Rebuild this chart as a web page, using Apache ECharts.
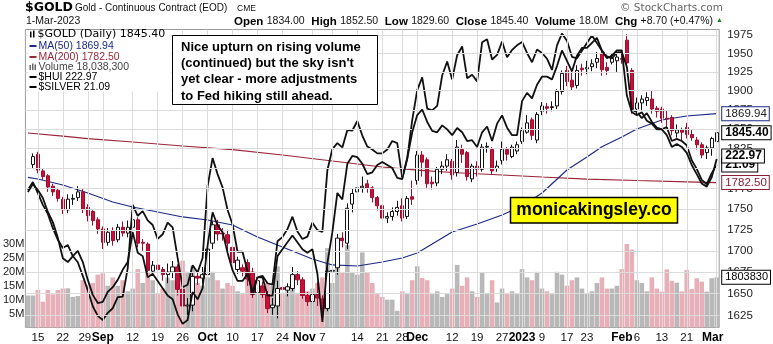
<!DOCTYPE html>
<html>
<head>
<meta charset="utf-8">
<script src="https://cdn.jsdelivr.net/npm/echarts@6.0.0/dist/echarts.min.js"></script>
<style>
html,body{margin:0;padding:0;background:#fff;}
#chart{width:773px;height:344px;}
</style>
</head>
<body>
<div id="chart"></div>
<script>
// ---------------- DATA ----------------
const dates = [
'2022-08-11','2022-08-12','2022-08-15','2022-08-16','2022-08-17','2022-08-18','2022-08-19','2022-08-22','2022-08-23','2022-08-24','2022-08-25','2022-08-26','2022-08-29','2022-08-30','2022-08-31',
'2022-09-01','2022-09-02','2022-09-06','2022-09-07','2022-09-08','2022-09-09','2022-09-12','2022-09-13','2022-09-14','2022-09-15','2022-09-16','2022-09-19','2022-09-20','2022-09-21','2022-09-22','2022-09-23','2022-09-26','2022-09-27','2022-09-28','2022-09-29','2022-09-30',
'2022-10-03','2022-10-04','2022-10-05','2022-10-06','2022-10-07','2022-10-10','2022-10-11','2022-10-12','2022-10-13','2022-10-14','2022-10-17','2022-10-18','2022-10-19','2022-10-20','2022-10-21','2022-10-24','2022-10-25','2022-10-26','2022-10-27','2022-10-28','2022-10-31',
'2022-11-01','2022-11-02','2022-11-03','2022-11-04','2022-11-07','2022-11-08','2022-11-09','2022-11-10','2022-11-11','2022-11-14','2022-11-15','2022-11-16','2022-11-17','2022-11-18','2022-11-21','2022-11-22','2022-11-23','2022-11-25','2022-11-28','2022-11-29','2022-11-30',
'2022-12-01','2022-12-02','2022-12-05','2022-12-06','2022-12-07','2022-12-08','2022-12-09','2022-12-12','2022-12-13','2022-12-14','2022-12-15','2022-12-16','2022-12-19','2022-12-20','2022-12-21','2022-12-22','2022-12-23','2022-12-27','2022-12-28','2022-12-29','2022-12-30',
'2023-01-03','2023-01-04','2023-01-05','2023-01-06','2023-01-09','2023-01-10','2023-01-11','2023-01-12','2023-01-13','2023-01-17','2023-01-18','2023-01-19','2023-01-20','2023-01-23','2023-01-24','2023-01-25','2023-01-26','2023-01-27','2023-01-30','2023-01-31',
'2023-02-01','2023-02-02','2023-02-03','2023-02-06','2023-02-07','2023-02-08','2023-02-09','2023-02-10','2023-02-13','2023-02-14','2023-02-15','2023-02-16','2023-02-17','2023-02-21','2023-02-22','2023-02-23','2023-02-24','2023-02-27','2023-02-28',
'2023-03-01'];

// [open, close, low, high]
const gold = [
'-',
[1805,1815,1800,1819],[1818,1798,1794,1821],[1797,1790,1786,1800],[1791,1777,1771,1793],[1778,1771,1766,1781],[1773,1763,1759,1776],
[1762,1749,1744,1765],[1749,1762,1745,1768],[1762,1763,1755,1768],[1764,1771,1760,1778],[1771,1750,1745,1775],
[1752,1742,1735,1756],[1747,1736,1730,1750],[1737,1726,1720,1740],
[1726,1710,1702,1729],[1710,1722,1706,1727],[1724,1712,1706,1728],[1713,1728,1710,1732],[1728,1721,1717,1735],[1721,1728,1716,1736],
[1728,1737,1725,1744],[1737,1709,1704,1740],[1710,1709,1700,1714],[1708,1677,1670,1710],[1676,1683,1672,1688],
[1683,1678,1668,1686],[1678,1672,1665,1681],[1672,1675,1662,1685],[1675,1681,1668,1688],[1681,1655,1648,1684],
[1655,1636,1628,1658],[1636,1637,1625,1645],[1637,1670,1630,1674],[1670,1668,1660,1675],[1668,1672,1662,1681],
[1672,1702,1668,1706],[1709,1731,1702,1735],[1731,1720,1712,1737],[1721,1720,1712,1727],[1719,1709,1700,1725],
[1704,1686,1678,1707],[1678,1689,1673,1693],[1680,1676,1670,1684],[1686,1667,1659,1690],[1675,1649,1645,1680],
[1651,1665,1648,1669],[1659,1649,1645,1664],[1650,1633,1628,1653],[1634,1637,1626,1645],[1636,1656,1622,1665],
[1657,1655,1648,1672],[1654,1658,1647,1662],[1656,1672,1653,1681],[1672,1666,1660,1676],[1666,1648,1644,1669],[1648,1641,1636,1652],
[1641,1649,1638,1656],[1649,1645,1636,1664],[1644,1633,1622,1648],[1633,1676,1630,1682],
[1676,1677,1668,1684],[1680,1715,1672,1720],[1715,1712,1704,1722],[1709,1751,1702,1757],[1756,1769,1746,1775],
[1771,1776,1764,1786],[1776,1778,1770,1790],[1781,1776,1770,1786],[1776,1764,1758,1778],[1764,1754,1748,1766],
[1754,1739,1735,1756],[1739,1741,1733,1746],[1741,1747,1736,1752],[1747,1752,1742,1760],
[1754,1739,1735,1763],[1741,1763,1738,1766],[1765,1762,1755,1785],
[1785,1817,1780,1822],[1817,1808,1790,1822],
[1811,1781,1776,1814],[1783,1781,1774,1790],[1782,1799,1778,1802],[1799,1803,1793,1809],[1803,1811,1797,1818],
[1809,1792,1786,1812],[1795,1827,1790,1836],[1824,1818,1807,1830],[1820,1790,1785,1822],[1787,1803,1783,1806],
[1803,1799,1790,1809],[1799,1827,1796,1831],[1827,1828,1820,1833],[1824,1797,1793,1827],[1800,1803,1796,1810],
[1810,1824,1805,1834],[1824,1818,1810,1827],[1815,1827,1813,1830],[1822,1830,1818,1834],
[1834,1848,1831,1852],[1846,1858,1844,1868],[1862,1842,1836,1865],[1836,1869,1832,1872],
[1873,1880,1868,1885],[1879,1877,1870,1884],[1878,1879,1873,1886],[1880,1899,1876,1902],[1899,1923,1895,1927],
[1927,1912,1906,1933],[1914,1905,1900,1928],[1907,1927,1903,1934],[1930,1928,1920,1936],
[1929,1931,1922,1940],[1932,1936,1926,1942],[1938,1943,1930,1952],[1950,1928,1920,1955],[1931,1927,1921,1938],
[1938,1943,1935,1950],[1940,1945,1925,1949],
[1943,1942,1936,1952],[1968,1937,1932,1976],[1927,1876,1870,1930],
[1876,1884,1868,1891],[1884,1889,1874,1894],[1887,1891,1880,1898],[1889,1876,1870,1901],[1877,1873,1865,1880],
[1876,1864,1858,1879],[1864,1863,1852,1874],[1865,1848,1842,1868],[1845,1849,1839,1856],[1849,1846,1834,1852],
[1852,1843,1838,1858],[1843,1839,1835,1849],[1836,1830,1824,1840],[1830,1817,1813,1833],
[1820,1826,1812,1829],[1826,1838,1816,1840],
[1834,1845.4,1829.6,1852.5]];

// volume, millions
const volumeM = [
11.5,11.5,13.5,9.3,13.5,11.9,13.5,14.0,14.1,11.0,11.3,17.0,15.3,16.0,19.0,
19.5,15.0,18.0,15.0,17.0,13.0,14.0,21.0,16.0,20.0,17.0,12.0,14.0,18.0,17.0,21.0,24.0,20.0,22.0,16.0,15.0,
18.0,20.0,17.0,14.0,16.0,15.0,13.0,12.0,19.0,18.0,13.0,14.0,16.0,15.0,22.0,12.0,13.0,16.0,12.0,14.0,13.0,
14.0,16.0,18.0,28.5,16.0,29.0,20.0,29.6,20.0,19.0,27.0,19.6,16.0,12.0,11.0,10.0,10.0,6.0,13.0,12.0,17.0,
22.0,17.8,17.0,12.0,13.0,11.0,12.0,14.0,22.5,15.0,18.0,13.0,11.0,19.6,12.0,17.0,9.0,14.0,12.0,13.0,12.0,
21.0,18.0,17.0,20.0,14.0,13.0,12.0,20.0,19.0,15.0,17.0,18.0,14.0,12.0,13.0,16.0,18.0,14.0,14.0,15.0,
21.0,30.0,28.0,17.0,16.0,13.0,18.0,14.0,12.9,20.9,16.8,16.1,13.0,20.7,13.8,17.7,16.5,12.9,17.7,
18.0383];

const hui = [
212.3,214.8,212.9,210.4,206.1,203.0,198.3,192.4,191.3,193.0,194.5,191.3,186.3,182.2,180.0,
180.3,183.0,184.3,186.3,189.1,191.3,200,194,193,187,188,186,184,182,181,177,174.5,175.5,183,181,184,
196,206,202,200,194,189,186,186,188,183,187,187,182,182,193,195,197,199,197,195,194,
195,188,175,191,200,212,210,221.4,224,223.6,221.4,218,218.6,221,222,221,220,216.8,216.4,223,232,
238,240,235.6,232.5,232,234.4,233,231,233.5,232,229,229.3,227,232,234,229,235,237.9,233.6,231,231,
243,246,244,249,252,252,251,256,262,258,254,260,263,263,265,267,262,259,260,262,
262,245,239,238,239,236,235,233,233,231,227,228,227,225,221,218,215,214,217,
222.97];

const silver = [
20.52,20.70,20.45,20.19,19.99,19.68,19.43,19.26,19.32,19.09,18.96,18.68,18.39,18.07,17.88,
17.80,17.94,18.03,18.25,18.26,18.84,20.19,19.95,20.05,19.85,19.75,19.45,19.55,19.80,19.70,19.05,18.45,18.50,18.90,18.75,19.05,
20.60,21.25,20.88,20.58,20.08,19.76,19.18,19.18,18.78,18.30,18.65,18.68,18.53,18.50,19.40,19.49,19.66,19.93,19.61,19.45,19.50,
19.80,19.64,19.60,20.97,21.46,21.60,21.50,21.91,21.90,22.13,21.78,21.52,21.45,21.36,21.36,21.45,21.65,21.60,20.80,21.25,22.15,
22.89,23.21,22.43,22.39,22.50,23.26,23.62,23.16,23.78,24.01,23.19,23.28,23.11,24.12,24.20,23.67,23.79,24.14,23.73,23.92,24.04,
24.13,23.84,23.60,23.93,23.84,23.69,23.40,24.04,24.35,24.16,23.74,23.70,23.90,24.10,24.30,24.10,23.90,23.75,23.70,23.85,
23.86,23.48,22.40,22.35,22.20,22.32,22.11,21.97,21.93,21.98,21.65,21.70,21.65,21.55,21.20,21.00,20.75,20.65,20.90,
21.09];

const ma50 = [
['2022-08-11',1789.0],['2022-08-15',1786.9],['2022-08-22',1779.5],['2022-08-29',1769.6],['2022-09-06',1758.6],
['2022-09-12',1752.5],['2022-09-19',1746.4],['2022-09-26',1740.4],['2022-10-03',1736.7],['2022-10-10',1730.7],
['2022-10-17',1716.3],['2022-10-24',1704.4],['2022-11-01',1690.3],['2022-11-07',1683.3],['2022-11-14',1682.1],
['2022-11-21',1686.8],['2022-11-28',1691.5],['2022-12-01',1697.4],['2022-12-12',1722.3],['2022-12-19',1731.9],
['2022-12-27',1742.8],['2023-01-03',1753.7],['2023-01-09',1769.6],['2023-01-17',1798.1],['2023-01-23',1814.5],
['2023-01-26',1827.5],['2023-02-01',1839.9],['2023-02-06',1850.1],['2023-02-13',1861.7],['2023-02-21',1866.9],
['2023-03-01',1869.94]];

const ma200 = [
['2022-08-11',1845.0],['2022-08-22',1841.1],['2022-08-29',1837.9],['2022-09-12',1833.5],['2022-09-26',1828.4],
['2022-10-10',1823.8],['2022-10-24',1817.0],['2022-11-07',1809.4],['2022-11-21',1801.9],['2022-12-01',1798.1],
['2022-12-12',1795.0],['2022-12-27',1791.9],['2023-01-09',1789.4],['2023-01-23',1786.9],['2023-02-06',1785.1],
['2023-02-21',1783.4],['2023-03-01',1782.5]];

const priceTicks = [1625,1650,1675,1700,1725,1750,1775,1800,1825,1850,1875,1900,1925,1950,1975];

const xTickLabels = {
'2022-08-15':'15','2022-08-22':'22','2022-08-29':'29','2022-09-01':'Sep','2022-09-12':'12','2022-09-19':'19','2022-09-26':'26',
'2022-10-03':'Oct','2022-10-10':'10','2022-10-17':'17','2022-10-24':'24','2022-11-01':'Nov','2022-11-07':'7','2022-11-14':'14',
'2022-11-21':'21','2022-11-28':'28','2022-12-01':'Dec','2022-12-12':'12','2022-12-19':'19','2022-12-27':'27','2023-01-03':'2023',
'2023-01-09':'9','2023-01-17':'17','2023-01-23':'23','2023-02-01':'Feb','2023-02-06':'6','2023-02-13':'13','2023-02-21':'21','2023-03-01':'Mar'};
const boldLabels = ['Sep','Oct','Nov','Dec','2023','Feb','Mar'];

// ---------------- CHART ----------------
const FONT = '"Liberation Sans", Arial, sans-serif';
const last = dates.length - 1;
const lastDate = dates[last];
const closes = gold.map(d => d === '-' ? null : d[1]);
const volColor = volumeM.map((v, i) =>
  (i > 0 && closes[i] !== null && closes[i - 1] !== null && closes[i] < closes[i - 1]) ? '#e7b0b8' : '#b8b8b8');

// label nudges (px to the left) to mirror the reference's crowded-label placement
const labelShift = { '2022-08-29': 3, '2022-11-01': 8, '2022-11-07': 10, '2023-03-01': 4 };
const rich = {};
[0, 3, 4, 8, 10].forEach(s => {
  rich['b' + s] = { fontFamily: FONT, fontSize: 12, fontWeight: 'bold', color: '#000', padding: [0, 2 * s, 0, 0] };
  rich['n' + s] = { fontFamily: FONT, fontSize: 11.5, color: '#111', padding: [0, 2 * s, 0, 0] };
});

function tag(coord, text, extra) {
  return {
    coord: coord, value: text, symbol: 'rect', symbolSize: 1,
    itemStyle: { color: 'rgba(0,0,0,0)' },
    label: Object.assign({
      show: true, position: 'right', distance: 5, formatter: text,
      backgroundColor: '#fff', borderWidth: 1, borderColor: '#000',
      padding: [1, 2, 0, 3], fontFamily: FONT, fontSize: 11.5, lineHeight: 12, color: '#000'
    }, extra || {})
  };
}

const chart = echarts.init(document.getElementById('chart'), null, { renderer: 'canvas' });

const option = {
  animation: false,
  backgroundColor: '#fff',
  grid: { left: 24.2, right: 53.8, top: 29.5, bottom: 16.5, show: true, borderColor: '#9c9c9c', borderWidth: 1, backgroundColor: 'transparent' },
  xAxis: [{
    type: 'category', data: dates, boundaryGap: true,
    axisLine: { show: false }, axisTick: { show: false }, splitLine: { show: false },
    axisLabel: {
      interval: (i, v) => xTickLabels[v] !== undefined,
      formatter: v => {
        const t = xTickLabels[v] || '';
        const s = labelShift[v] || 0;
        return (boldLabels.includes(t) ? '{b' : '{n') + s + '|' + t + '}';
      },
      margin: 4,
      rich: rich
    }
  }],
  yAxis: [
    { type: 'log', logBase: 10, min: 1611.7, max: 1982.6, position: 'right',
      axisLine: { show: false }, axisTick: { show: false }, splitLine: { show: false },
      axisLabel: { customValues: priceTicks, formatter: v => String(Math.round(v)), color: '#222', fontSize: 11.5, fontFamily: FONT, margin: 8 } },
    { type: 'value', min: 0, max: 107.1, interval: 5, position: 'left',
      axisLine: { show: false }, axisTick: { show: false }, splitLine: { show: false },
      axisLabel: { formatter: v => (v > 0 && v <= 30) ? v + 'M' : '', color: '#222', fontSize: 11, fontFamily: FONT, margin: 1 } },
    { type: 'log', logBase: 10, min: 173.57, max: 270.3, show: false },
    { type: 'log', logBase: 10, min: 17.654, max: 24.46, show: false }
  ],
  series: [
    { type: 'line', name: 'gridlines', data: dates.map(() => '-'), yAxisIndex: 0, silent: true, z: 0, symbol: 'none',
      markLine: { silent: true, symbol: ['none', 'none'], animation: false, label: { show: false },
        lineStyle: { color: '#dcdcdc', width: 1, type: 'solid' },
        data: priceTicks.map(v => ({ yAxis: v })).concat(Object.keys(xTickLabels).map(d => ({ xAxis: d }))) } },
    { type: 'bar', name: 'Volume', yAxisIndex: 1, z: 1, barCategoryGap: '8%',
      data: volumeM.map((v, i) => ({ value: v, itemStyle: { color: volColor[i] } })),
      markPoint: { silent: true, animation: false,
        data: [tag([last, volumeM[last]], String(Math.round(volumeM[last] * 1e5)), { fontSize: 11 })] } },
    { type: 'candlestick', name: '$GOLD', yAxisIndex: 0, z: 3, data: gold, barWidth: '76%',
      itemStyle: { color: '#ffffff', color0: '#c8103a', borderColor: '#111', borderColor0: '#a00c2c', borderWidth: 1 },
      markPoint: { silent: true, animation: false,
        data: [tag([last, 1845.4], '1845.40', { fontWeight: 'bold', fontSize: 12 })] } },
    { type: 'line', name: 'MA(200)', yAxisIndex: 0, z: 3, data: ma200, symbol: 'none',
      lineStyle: { color: '#9a2638', width: 1.2 },
      markPoint: { silent: true, animation: false,
        data: [tag([lastDate, 1782.5], '1782.50', { color: '#8a1f35', borderColor: '#8a1f35' })] } },
    { type: 'line', name: 'MA(50)', yAxisIndex: 0, z: 3, data: ma50, symbol: 'none',
      lineStyle: { color: '#1d2a86', width: 1.2 },
      markPoint: { silent: true, animation: false,
        data: [tag([lastDate, 1869.94], '1869.94', { color: '#222', borderColor: '#1d2a86' })] } },
    { type: 'line', name: '$SILVER', yAxisIndex: 3, z: 4, data: silver, symbol: 'none',
      lineStyle: { color: '#111', width: 1.8 },
      markPoint: { silent: true, animation: false,
        data: [tag([last, 21.09], '21.09', { fontWeight: 'bold', fontSize: 12 })] } },
    { type: 'line', name: '$HUI', yAxisIndex: 2, z: 5, data: hui, symbol: 'none',
      lineStyle: { color: '#111', width: 1.8 },
      markPoint: { silent: true, animation: false,
        data: [tag([last, 222.97], '222.97', { fontWeight: 'bold', fontSize: 12, offset: [0, -3] })] } }
  ],
  graphic: [
    // header
    { type: 'text', x: 25, y: 8, z: 100, style: { text: '$GOLD', font: 'bold 12.5px "DejaVu Sans"', fill: '#000', verticalAlign: 'middle' } },
    { type: 'text', x: 75, y: 8.5, z: 100, style: { text: 'Gold - Continuous Contract (EOD)', font: '10px ' + FONT, fill: '#111', verticalAlign: 'middle' } },
    { type: 'text', x: 237, y: 9, z: 100, style: { text: 'CME', font: '8.5px ' + FONT, fill: '#111', verticalAlign: 'middle' } },
    { type: 'text', x: 26, y: 21.5, z: 100, style: { text: '1-Mar-2023', font: '10.5px ' + FONT, fill: '#111', verticalAlign: 'middle' } },
    { type: 'text', x: 723, y: 8, z: 100, style: { text: '© StockCharts.com', font: '10.5px "DejaVu Sans"', fill: '#666', align: 'right', verticalAlign: 'middle' } },
    { type: 'text', x: 713, y: 21.5, z: 100, style: {
        text: '{b|Open} {n|1834.00}  {b|High} {n|1852.50}  {b|Low} {n|1829.60}  {b|Close} {n|1845.40}  {b|Volume} {n|18.0M}  {b|Chg} {n|+8.70 (+0.47%)}',
        align: 'right', verticalAlign: 'middle',
        rich: { b: { font: 'bold 11.5px ' + FONT, fill: '#000' }, n: { font: '10.5px ' + FONT, fill: '#111' } } } },
    { type: 'text', x: 716, y: 20.5, z: 100, style: { text: '▲', font: '7px ' + FONT, fill: '#1a8a1a', verticalAlign: 'middle' } },
    // legend box
    { type: 'rect', z: 90, shape: { x: 28, y: 30.5, width: 143, height: 61 }, style: { fill: '#fff' } },
    { type: 'rect', z: 100, shape: { x: 30, y: 31.5, width: 1.5, height: 6 }, style: { fill: '#000' } },
    { type: 'rect', z: 100, shape: { x: 33, y: 30.5, width: 1.5, height: 7 }, style: { fill: '#000' } },
    { type: 'text', x: 37.5, y: 34.5, z: 100, style: { text: '$GOLD (Daily) 1845.40', font: '11px "DejaVu Sans"', fill: '#000', verticalAlign: 'middle' } },
    { type: 'rect', z: 100, shape: { x: 29.5, y: 45, width: 7, height: 2 }, style: { fill: '#1d2a86' } },
    { type: 'text', x: 38.5, y: 46, z: 100, style: { text: 'MA(50) 1869.94', font: '10.5px ' + FONT, fill: '#1d2a86', verticalAlign: 'middle' } },
    { type: 'rect', z: 100, shape: { x: 29.5, y: 56, width: 7, height: 2 }, style: { fill: '#9a2638' } },
    { type: 'text', x: 38.5, y: 57, z: 100, style: { text: 'MA(200) 1782.50', font: '10.5px ' + FONT, fill: '#9a2638', verticalAlign: 'middle' } },
    { type: 'rect', z: 100, shape: { x: 29.5, y: 65, width: 1.5, height: 5 }, style: { fill: '#666' } },
    { type: 'rect', z: 100, shape: { x: 32, y: 63.5, width: 1.5, height: 6.5 }, style: { fill: '#666' } },
    { type: 'rect', z: 100, shape: { x: 34.5, y: 64.5, width: 1.5, height: 5.5 }, style: { fill: '#666' } },
    { type: 'text', x: 38.5, y: 67, z: 100, style: { text: 'Volume 18,038,300', font: '10.5px ' + FONT, fill: '#444', verticalAlign: 'middle' } },
    { type: 'rect', z: 100, shape: { x: 29.5, y: 76, width: 7, height: 2 }, style: { fill: '#000' } },
    { type: 'text', x: 38.5, y: 77, z: 100, style: { text: '$HUI 222.97', font: '10.5px ' + FONT, fill: '#000', verticalAlign: 'middle' } },
    { type: 'rect', z: 100, shape: { x: 29.5, y: 86, width: 7, height: 2 }, style: { fill: '#000' } },
    { type: 'text', x: 38.5, y: 87, z: 100, style: { text: '$SILVER 21.09', font: '10.5px ' + FONT, fill: '#000', verticalAlign: 'middle' } },
    // annotation
    { type: 'rect', z: 100, shape: { x: 172.5, y: 35.5, width: 205, height: 69 }, style: { fill: '#fff', stroke: '#000', lineWidth: 1 } },
    { type: 'text', x: 181, y: 39, z: 101, style: {
        text: 'Nice upturn on rising volume\n(continued) but the sky isn\'t\nyet clear - more adjustments\nto Fed hiking still ahead.',
        font: 'bold 13px ' + FONT, lineHeight: 16.3, fill: '#000' } },
    { type: 'rect', z: 100, shape: { x: 510.5, y: 197.5, width: 167, height: 25.5 }, style: { fill: '#ffff00', stroke: '#000', lineWidth: 1.5 } },
    { type: 'text', x: 594, y: 210.5, z: 101, style: { text: 'monicakingsley.co', font: 'bold 17.5px ' + FONT, fill: '#000', align: 'center', verticalAlign: 'middle' } }
  ]
};
chart.setOption(option);
</script>
</body>
</html>
